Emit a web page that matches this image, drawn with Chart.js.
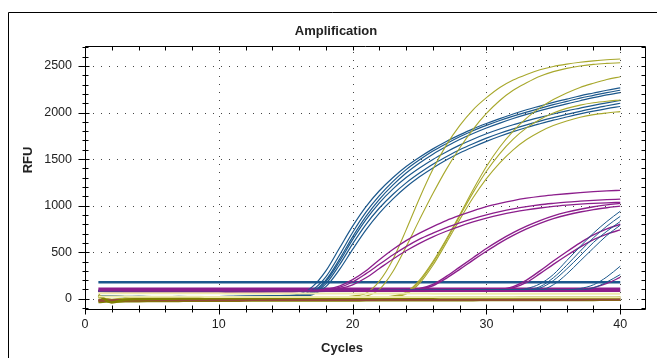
<!DOCTYPE html>
<html>
<head>
<meta charset="utf-8">
<script src="https://cdn.jsdelivr.net/npm/chart.js@4.4.1/dist/chart.umd.min.js"></script>
<style>
  html, body { margin: 0; padding: 0; background: #fff; }
  #wrap { width: 657px; height: 358px; position: relative; }
</style>
</head>
<body>
<div id="wrap"><canvas id="myChart" width="657" height="358"></canvas></div>
<script>
// cycle numbers (x values)
const cycles = [1,2,3,4,5,6,7,8,9,10,11,12,13,14,15,16,17,18,19,20,21,22,23,24,25,26,27,28,29,30,31,32,33,34,35,36,37,38,39,40];
const xTicks = [0, 10, 20, 30, 40];
const yTicks = [0, 500, 1000, 1500, 2000, 2500];

// early blue wells
const blueA = [30,28,26,25,24,24,25,24,23,24,25,26,28,30,36,50,130,300,540,780,990,1160,1300,1420,1520,1610,1690,1760,1825,1882,1935,1985,2030,2070,2110,2145,2180,2210,2240,2265];
const blueB = [28,26,24,25,23,22,24,23,22,24,25,26,27,29,32,40,95,235,465,712,930,1108,1258,1387,1492,1586,1666,1740,1805,1862,1915,1962,2005,2045,2085,2120,2155,2185,2215,2240];
const blueC = [26,25,23,24,22,22,23,22,21,23,24,25,26,28,31,36,75,200,420,665,885,1068,1220,1350,1458,1553,1635,1710,1775,1834,1887,1936,1980,2020,2058,2094,2127,2160,2190,2215];
const blueD = [27,26,24,23,23,22,24,23,22,23,24,25,26,27,29,30,55,160,360,590,800,975,1120,1245,1350,1445,1525,1600,1665,1725,1778,1825,1868,1908,1945,1980,2013,2045,2073,2100];
const blueE = [25,25,23,23,22,22,23,22,21,22,23,24,25,26,27,28,45,130,310,530,740,920,1070,1200,1310,1405,1490,1565,1630,1690,1745,1795,1840,1880,1918,1952,1985,2015,2042,2065];
const blueF = [26,26,24,24,23,22,23,23,22,23,24,25,26,28,30,34,66,185,395,635,850,1030,1178,1302,1405,1497,1577,1650,1714,1772,1823,1869,1910,1949,1985,2018,2048,2078,2105,2130];

// late blue wells
const blueL1 = [90,88,86,85,84,84,85,84,83,84,85,86,86,87,88,88,89,89,90,90,90,91,91,92,92,92,93,93,94,94,95,95,110,160,260,410,560,705,830,940];
const blueL2 = [88,87,85,84,84,83,84,84,83,84,84,85,85,86,87,87,88,88,89,89,89,90,90,91,91,91,92,92,93,93,94,94,96,130,225,360,510,655,780,885];
const blueL3 = [86,85,84,83,83,82,83,83,82,83,83,84,84,85,86,86,87,87,88,88,88,89,89,90,90,90,91,91,92,92,93,93,95,115,195,320,460,605,725,830];
const blueL4 = [87,86,84,83,83,82,83,83,82,83,83,84,84,85,86,86,87,87,88,88,88,89,89,90,90,90,91,91,92,92,93,93,94,96,150,265,405,545,680,790];
const blueV1 = [85,84,83,82,82,81,82,82,81,82,82,83,83,84,85,85,86,86,87,87,87,88,88,89,89,89,90,90,91,91,92,92,93,93,94,95,110,150,235,350];
const blueV2 = [84,83,82,81,81,80,81,81,80,81,81,82,82,83,84,84,85,85,86,86,86,87,87,88,88,88,89,89,90,90,91,91,92,92,93,94,95,118,180,260];

// yellow wells
const yel1 = [30,-20,5,10,12,10,8,9,10,8,7,8,9,10,10,11,12,14,20,30,60,190,420,740,1080,1390,1650,1860,2030,2160,2270,2350,2410,2460,2495,2520,2540,2555,2567,2575];
const yel2 = [25,-15,6,9,10,9,8,8,9,7,7,8,8,9,9,10,11,12,14,18,28,100,290,560,850,1130,1390,1620,1820,1990,2130,2240,2320,2390,2440,2475,2500,2518,2528,2535];
const yel3 = [20,-10,5,8,9,8,7,7,8,6,6,7,7,8,8,9,10,10,11,12,14,18,30,70,200,400,640,900,1170,1420,1630,1800,1940,2050,2140,2210,2270,2315,2355,2385];
const yel4 = [18,-8,4,7,8,7,6,6,7,5,5,6,6,7,7,8,9,9,10,11,13,16,26,60,185,385,625,885,1140,1370,1560,1715,1835,1925,1995,2045,2080,2105,2122,2135];
const yel5 = [15,-5,3,6,7,6,5,5,6,4,4,5,5,6,6,7,8,8,9,10,12,15,24,50,165,360,600,850,1085,1290,1460,1600,1710,1795,1860,1910,1950,1978,1996,2010];

// purple wells
const purA1 = [82,80,79,78,78,77,78,78,77,78,78,79,79,80,81,83,88,100,135,205,300,420,530,625,705,775,840,895,945,990,1025,1055,1080,1100,1115,1128,1140,1150,1158,1165];
const purA2 = [81,79,78,77,77,76,77,77,76,77,77,78,78,79,80,82,86,96,122,180,270,370,470,560,640,705,765,815,860,900,935,965,990,1010,1025,1038,1048,1057,1064,1070];
const purA3 = [80,78,77,76,76,75,76,76,75,76,76,77,77,78,79,80,83,90,110,150,225,325,425,515,595,665,725,778,825,865,900,930,955,975,992,1005,1016,1025,1031,1035];
const purB1 = [79,78,77,76,76,75,76,76,75,76,76,77,77,78,78,79,79,80,80,81,81,82,84,92,110,155,240,340,440,540,630,710,780,840,890,930,962,988,1008,1025];
const purB2 = [78,77,76,75,75,74,75,75,74,75,75,76,76,77,77,78,78,79,79,80,80,81,83,90,105,140,220,315,415,510,600,680,750,810,860,900,932,958,978,995];
const purC1 = [80,79,78,77,77,76,77,77,76,77,77,78,78,79,79,80,80,81,81,82,82,83,83,84,84,85,85,86,87,90,100,130,200,300,405,505,600,685,750,800];
const purC2 = [79,78,77,76,76,75,76,76,75,76,76,77,77,78,78,79,79,80,80,81,81,82,82,83,83,84,84,85,86,88,96,118,175,270,370,465,555,635,695,740];
const purD1 = [78,77,76,75,75,74,75,75,74,75,75,76,76,77,77,78,78,79,79,80,80,81,81,82,82,83,83,84,84,85,85,86,86,87,88,90,95,120,165,230];

// non-amplifying wells
const olive1 = [-35,-25,-20,-18,-15,-14,-12,-12,-11,-10,-10,-9,-9,-8,-8,-8,-7,-7,-6,-6,-6,-5,-5,-5,-4,-4,-4,-3,-3,-3,-2,-2,-2,-1,-1,-1,0,0,0,1];
const olive2 = [40,-40,-10,-5,-2,0,2,3,4,5,5,6,6,7,7,7,8,8,8,9,9,9,10,10,10,11,11,11,12,12,12,12,13,13,13,13,14,14,14,15];
const olive3 = [-10,-30,-28,-26,-25,-24,-23,-22,-22,-21,-21,-20,-20,-20,-19,-19,-19,-18,-18,-18,-17,-17,-17,-16,-16,-16,-15,-15,-15,-14,-14,-14,-13,-13,-13,-12,-12,-12,-11,-11];
const brown1 = [-20,-18,-16,-15,-14,-14,-13,-13,-12,-12,-12,-12,-11,-11,-11,-11,-10,-10,-10,-10,-10,-9,-9,-9,-9,-9,-8,-8,-8,-8,-8,-8,-7,-7,-7,-7,-7,-6,-6,-6];
const cream1 = [60,60,59,59,59,58,58,58,58,58,57,57,57,57,57,57,57,56,56,56,56,56,56,56,56,55,55,55,55,55,55,55,55,54,54,54,54,54,54,54];
const cream2 = [25,24,23,22,22,21,21,21,20,20,20,20,20,19,19,19,19,19,19,18,18,18,18,18,18,18,17,17,17,17,17,17,17,17,16,16,16,16,16,16];
const purFlat = [88,88,87,87,87,87,86,86,86,86,86,86,85,85,85,85,85,85,85,85,84,84,84,84,84,84,84,84,84,84,83,83,83,83,83,83,83,83,83,83];

// threshold lines
const blueThreshold = 178;
const purpleThreshold = 104;

const BLUE = 'rgb(28,88,140)';
const YELLOW = 'rgb(168,168,44)';
const PURPLE = 'rgb(140,30,140)';
const OLIVE = 'rgb(128,128,0)';
const BROWN = 'rgb(150,70,60)';
const CREAM = 'rgb(238,234,170)';
const FONT = '"Liberation Sans", Arial, sans-serif';

function pts(arr) {
    return arr.map((v, i) => ({x: cycles[i], y: v}));
}
function line(arr, color, w) {
    return {data: pts(arr), borderColor: color, borderWidth: w, pointRadius: 0,
        fill: false, cubicInterpolationMode: 'monotone'};
}
function flat(v, color, w) {
    return {data: [{x: cycles[0], y: v}, {x: cycles[cycles.length - 1], y: v}],
        borderColor: color, borderWidth: w, pointRadius: 0, fill: false};
}

const datasets = [
    line(cream2, CREAM, 2),
    line(olive2, OLIVE, 2.5),
    line(brown1, BROWN, 2.5),
    line(olive3, OLIVE, 2.5),
    line(olive1, OLIVE, 2.5),
    line(cream1, CREAM, 2),
    line(purFlat, PURPLE, 2),
    line(blueV1, BLUE, 1), line(blueV2, BLUE, 1),
    line(blueL1, BLUE, 1), line(blueL2, BLUE, 1), line(blueL3, BLUE, 1), line(blueL4, BLUE, 1),
    line(purC1, PURPLE, 1.4), line(purC2, PURPLE, 1.4), line(purD1, PURPLE, 1.2),
    line(purB1, PURPLE, 1.4), line(purB2, PURPLE, 1.4),
    line(purA1, PURPLE, 1.3), line(purA2, PURPLE, 1.3), line(purA3, PURPLE, 1.3),
    line(yel1, YELLOW, 1.1), line(yel2, YELLOW, 1.1), line(yel3, YELLOW, 1.1), line(yel4, YELLOW, 1.1), line(yel5, YELLOW, 1.1),
    line(blueA, BLUE, 1.2), line(blueB, BLUE, 1.2), line(blueC, BLUE, 1.2),
    line(blueD, BLUE, 1.2), line(blueE, BLUE, 1.2), line(blueF, BLUE, 1.2),
    flat(purpleThreshold, PURPLE, 3),
    flat(blueThreshold, BLUE, 2.5)
];

// dotted grid, frame, minor ticks and titles
const frame = {
    id: 'frame',
    beforeDatasetsDraw(chart) {
        const {ctx, chartArea: a, scales: {x, y}} = chart;
        ctx.save();
        ctx.strokeStyle = '#444';
        ctx.lineWidth = 1;
        ctx.setLineDash([1, 7]);
        xTicks.forEach(t => {
            const px = Math.round(x.getPixelForValue(t)) + 0.5;
            ctx.beginPath(); ctx.moveTo(px, a.bottom); ctx.lineTo(px, a.top); ctx.stroke();
        });
        yTicks.forEach(t => {
            const py = Math.round(y.getPixelForValue(t)) + 0.5;
            ctx.beginPath(); ctx.moveTo(a.left, py); ctx.lineTo(a.right, py); ctx.stroke();
        });
        ctx.restore();
    },
    afterDraw(chart) {
        const {ctx, chartArea: a, scales: {x, y}} = chart;
        const L = Math.round(a.left) + 0.5, R = Math.round(a.right) + 0.5;
        const T = Math.round(a.top) + 0.5, B = Math.round(a.bottom) + 0.5;
        ctx.save();
        ctx.strokeStyle = '#000';
        ctx.lineWidth = 1;
        ctx.beginPath();
        ctx.rect(L, T, R - L, B - T);
        ctx.stroke();
        // x ticks every 2 cycles
        for (let c = 0; c <= 41; c += 2) {
            const px = Math.round(x.getPixelForValue(c)) + 0.5;
            const major = c % 10 === 0;
            ctx.beginPath();
            ctx.moveTo(px, B - (major ? 5 : 4)); ctx.lineTo(px, B + (major ? 5 : 3));
            ctx.moveTo(px, T); ctx.lineTo(px, T + 4);
            ctx.stroke();
        }
        // y ticks every 100
        for (let v = -100; v <= 2700; v += 100) {
            const py = Math.round(y.getPixelForValue(v)) + 0.5;
            const major = v % 500 === 0;
            ctx.beginPath();
            ctx.moveTo(L - (major ? 7 : 3), py); ctx.lineTo(L + (major ? 4 : 3), py);
            ctx.moveTo(R, py); ctx.lineTo(R - 4, py);
            ctx.stroke();
        }
        // outer panel frame
        ctx.beginPath();
        ctx.moveTo(8.5, 358); ctx.lineTo(8.5, 12.5); ctx.lineTo(657, 12.5);
        ctx.stroke();
        // titles
        ctx.fillStyle = '#222';
        ctx.font = 'bold 13px ' + FONT;
        ctx.textAlign = 'center';
        ctx.textBaseline = 'middle';
        ctx.fillText('Amplification', 336, 31);
        ctx.fillText('Cycles', 342, 348);
        ctx.translate(28, 160);
        ctx.rotate(-Math.PI / 2);
        ctx.fillText('RFU', 0, 0);
        ctx.restore();
    }
};

const ctx = document.getElementById('myChart').getContext('2d');
const myChart = new Chart(ctx, {
    type: 'line',
    data: {datasets: datasets},
    options: {
        responsive: false,
        animation: false,
        events: [],
        layout: {padding: {top: 46, right: 12, left: 0, bottom: 0}},
        plugins: {legend: {display: false}, title: {display: false}, tooltip: {enabled: false}},
        scales: {
            x: {
                type: 'linear', min: 0, max: 41.85,
                afterBuildTicks: s => { s.ticks = xTicks.map(v => ({value: v})); },
                afterFit: s => { s.height = 49; },
                grid: {display: false, drawTicks: false},
                border: {display: false},
                ticks: {padding: 8, color: '#222', maxRotation: 0, callback: v => String(v),
                    font: {family: FONT, size: 12.5}}
            },
            y: {
                type: 'linear', min: -110, max: 2715,
                afterBuildTicks: s => { s.ticks = yTicks.map(v => ({value: v})); },
                afterFit: s => { s.width = 85; },
                grid: {display: false, drawTicks: false},
                border: {display: false},
                ticks: {padding: 13, color: '#222', callback: v => String(v),
                    font: {family: FONT, size: 12.5}}
            }
        }
    },
    plugins: [frame]
});
</script>
</body>
</html>
